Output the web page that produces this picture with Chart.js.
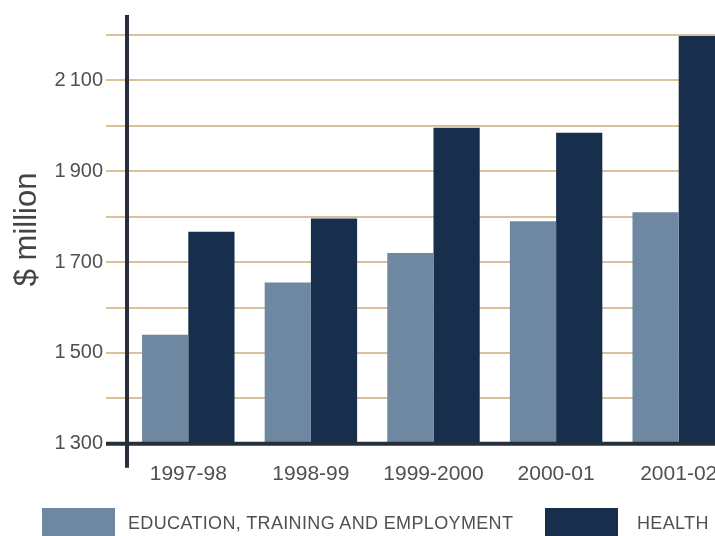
<!DOCTYPE html>
<html>
<head>
<meta charset="utf-8">
<script src="https://cdn.jsdelivr.net/npm/chart.js@4"></script>
<style>
  html, body { margin: 0; padding: 0; background: #fff; overflow: hidden; width: 715px; height: 536px; }
  #wrap { position: absolute; left: 0; top: 0; width: 742px; height: 510px; }
  .leg-box { position: absolute; width: 73px; height: 30px; top: 508px; }
  .leg-text { position: absolute; top: 512px; font-family: "Liberation Sans", Arial, sans-serif; font-size: 18px; letter-spacing: 0.35px; color: #505050; line-height: 22px; white-space: nowrap; }
</style>
</head>
<body>
<div id="wrap"><canvas id="c"></canvas></div>
<div class="leg-box" style="left:42px; background:#6f88a1;"></div>
<div class="leg-text" style="left:128px;">EDUCATION, TRAINING AND EMPLOYMENT</div>
<div class="leg-box" style="left:545px; background:#172f4c;"></div>
<div class="leg-text" style="left:637px;">HEALTH</div>
<script>
const categories = ['1997-98', '1998-99', '1999-2000', '2000-01', '2001-02'];
const educationValues = [1540, 1655, 1720, 1790, 1810];
const healthValues = [1767, 1796, 1996, 1985, 2198];
const seriesNames = ['EDUCATION, TRAINING AND EMPLOYMENT', 'HEALTH'];
const yMin = 1300;
const yMax = 2244;
const yStep = 100;

const axisLines = {
  id: 'axisLines',
  afterDraw(chart) {
    const { ctx, chartArea } = chart;
    const y = chart.scales.y;
    const base = y.getPixelForValue(yMin);
    ctx.save();
    ctx.strokeStyle = '#262d3b';
    ctx.lineWidth = 4;
    ctx.beginPath();
    ctx.moveTo(chartArea.left - 21, base);
    ctx.lineTo(chartArea.right, base);
    ctx.stroke();
    ctx.beginPath();
    ctx.moveTo(chartArea.left, chartArea.top);
    ctx.lineTo(chartArea.left, chartArea.bottom + 24);
    ctx.stroke();
    ctx.restore();
  }
};

new Chart(document.getElementById('c'), {
  type: 'bar',
  data: {
    labels: categories,
    datasets: [
      { label: seriesNames[0], data: educationValues, backgroundColor: '#6f88a1', borderWidth: 0 },
      { label: seriesNames[1], data: healthValues, backgroundColor: '#172f4c', borderWidth: 0 }
    ]
  },
  options: {
    responsive: true,
    maintainAspectRatio: false,
    animation: false,
    devicePixelRatio: 1,
    layout: { padding: { top: 12, right: 2, bottom: 5, left: 0 } },
    datasets: { bar: { categoryPercentage: 0.754, barPercentage: 1.0 } },
    plugins: { legend: { display: false }, tooltip: { enabled: false } },
    scales: {
      x: {
        grid: { display: false, drawTicks: false },
        border: { display: false },
        ticks: { padding: 18, color: '#505050', font: { family: '"Liberation Sans", Arial, sans-serif', size: 21 } }
      },
      y: {
        min: yMin,
        max: yMax,
        z: 1,
        afterFit(scale) { scale.width = 127; },
        border: { display: false },
        grid: { color: '#dcbf9c', lineWidth: 2, drawTicks: true, tickLength: 21, tickColor: '#dcbf9c' },
        ticks: {
          stepSize: yStep,
          includeBounds: false,
          padding: 3,
          color: '#505050',
          font: { family: '"Liberation Sans", Arial, sans-serif', size: 20 },
          callback(v) {
            if (v % 200 !== 100) return '';
            const s = String(v);
            return s.slice(0, 1) + '\u2009' + s.slice(1);
          }
        },
        title: {
          display: true,
          text: '$ million',
          color: '#444',
          padding: { top: 9, bottom: 0 },
          font: { family: '"Liberation Sans", Arial, sans-serif', size: 31, lineHeight: 1.2 }
        }
      }
    }
  },
  plugins: [axisLines]
});
</script>
</body>
</html>
